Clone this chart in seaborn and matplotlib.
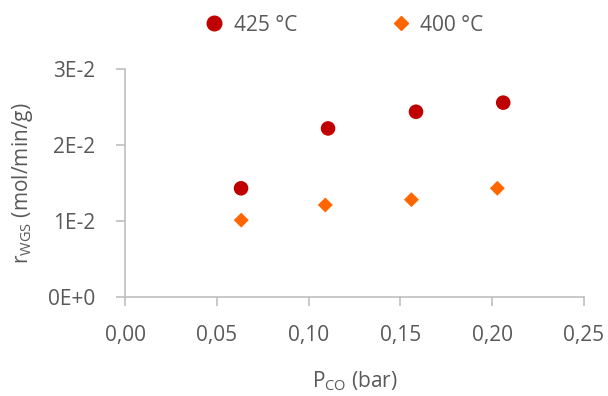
import matplotlib
matplotlib.use("Agg")
import matplotlib.pyplot as plt
import seaborn as sns
import pandas as pd
from matplotlib.lines import Line2D

# Data
p_co_425 = [0.0632, 0.1106, 0.1585, 0.2060]
r_425 = [0.0143, 0.0222, 0.0244, 0.0256]
p_co_400 = [0.0633, 0.1091, 0.1560, 0.2028]
r_400 = [0.0101, 0.0121, 0.0128, 0.0143]
series = ["425 °C", "400 °C"]
x_ticks = [0.0, 0.05, 0.10, 0.15, 0.20, 0.25]
x_ticklabels = ["0,00", "0,05", "0,10", "0,15", "0,20", "0,25"]
y_ticks = [0.0, 0.01, 0.02, 0.03]
y_ticklabels = ["0E+0", "1E-2", "2E-2", "3E-2"]

df = pd.DataFrame({
    "x": p_co_425 + p_co_400,
    "y": r_425 + r_400,
    "T": [series[0]] * len(p_co_425) + [series[1]] * len(p_co_400),
})

sns.set_theme(style="white")
plt.rcParams["font.family"] = ["Open Sans", "DejaVu Sans"]
plt.rcParams["mathtext.fontset"] = "custom"
plt.rcParams["mathtext.rm"] = "Open Sans"
plt.rcParams["mathtext.it"] = "Open Sans"

txt = "#595959"
axc = "#BFBFBF"
fs = 15

fig = plt.figure(figsize=(6.08, 3.96), dpi=100)
ax = fig.add_axes([0.2056, 0.2508, 0.7549, 0.5742])

sns.scatterplot(data=df, x="x", y="y", hue="T", style="T", size="T",
                palette={series[0]: "#C00000", series[1]: "#FF6600"},
                markers={series[0]: "o", series[1]: "D"},
                sizes={series[0]: 110, series[1]: 58},
                linewidth=0, ax=ax, legend=False)

ax.set_xlim(0, 0.25)
ax.set_ylim(0, 0.03)
ax.set_xticks(x_ticks)
ax.set_xticklabels(x_ticklabels)
ax.set_yticks(y_ticks)
ax.set_yticklabels(y_ticklabels)

for s in ["top", "right"]:
    ax.spines[s].set_visible(False)
for s in ["left", "bottom"]:
    ax.spines[s].set_color(axc)
    ax.spines[s].set_linewidth(1.2)

ax.tick_params(axis="both", which="major", direction="out", length=6.5,
               width=1.2, color=axc, labelcolor=txt, labelsize=fs,
               bottom=True, left=True)
ax.tick_params(axis="y", pad=15)
ax.tick_params(axis="x", pad=14)

ax.set_xlabel(r"P$_{\mathrm{CO}}$ (bar)", color=txt, fontsize=fs, labelpad=17)
ax.set_ylabel(r"r$_{\mathrm{WGS}}$ (mol/min/g)", color=txt, fontsize=fs, labelpad=9)

handles = [
    Line2D([], [], marker="o", linestyle="", color="#C00000", markersize=10.5),
    Line2D([], [], marker="D", linestyle="", color="#FF6600", markersize=7.5),
]
fig.legend(handles, series, loc="upper center", bbox_to_anchor=(0.561, 1.01),
           ncol=2, frameon=False, fontsize=fs, handletextpad=0.2,
           columnspacing=4.2, labelcolor=txt, handlelength=1.5)

fig.savefig("out.png", dpi=100)
